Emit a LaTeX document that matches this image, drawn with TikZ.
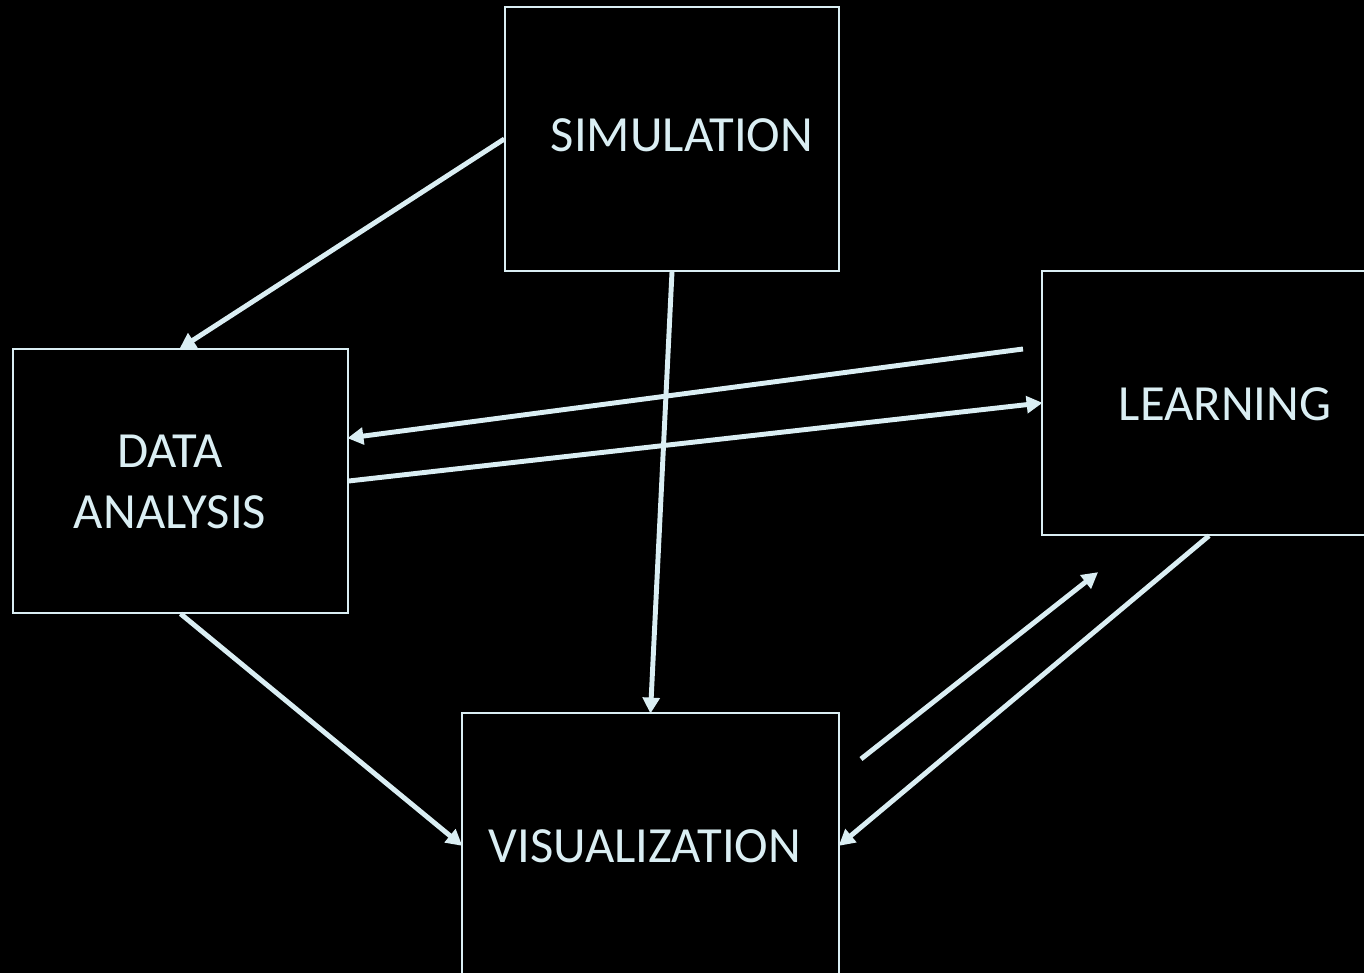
\documentclass[tikz,border=0pt]{standalone}
\usepackage{fontspec}
\setmainfont{Carlito}
\usetikzlibrary{arrows.meta,calc}
\definecolor{lb}{HTML}{DAEEF3}
\tikzset{
  box/.style={draw=lb, line width=1.1pt, minimum width=#1, inner sep=0pt},
  lbl/.style={text=lb, font=\fontsize{38}{45.75}\selectfont, align=center, inner sep=0pt},
  conn/.style={draw=lb, line width=3.7pt, -{Triangle[length=12pt,width=12.5pt]}, shorten >=-1pt},
}
\begin{document}
\begin{tikzpicture}[x=0.75pt,y=-0.75pt]
\fill[black] (0,0) rectangle (1364,973);
\useasboundingbox (0,0) rectangle (1364,973);
\node[box=250.5pt, minimum height=198pt] (sim) at (672,139) {};
\node[box=251.25pt, minimum height=198pt] (data) at (180.5,481) {};
\node[box=250.5pt, minimum height=198pt] (learn) at (1209,403) {};
\node[box=282.75pt, minimum height=198pt] (vis) at (650.5,845) {};
\node[lbl] (simt) at (682,135) {SIMULATION};
\node[lbl] (datat) at (170,482) {DATA\\ANALYSIS};
\node[lbl] (learnt) at (1225,404) {LEARNING};
\node[lbl] (vist) at (645,846) {VISUALIZATION};
\coordinate (c3) at (1023,349);
\coordinate (c6s) at (861,759);
\coordinate (c6e) at (1097,573);
\draw[conn] (sim.west) -- (data.north);
\draw[conn] (sim.south) -- (vis.north);
\draw[conn] (c3) -- ($(data.east)+(0,-43)$);
\draw[conn] (data.east) -- (learn.west);
\draw[conn] (data.south) -- (vis.west);
\draw[conn] (c6s) -- (c6e);
\draw[conn] (learn.south) -- (vis.east);
\end{tikzpicture}
\end{document}
